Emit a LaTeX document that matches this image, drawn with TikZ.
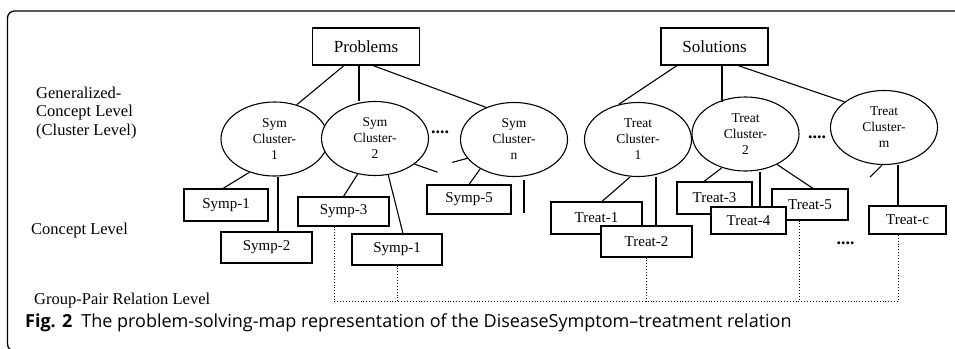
\documentclass[tikz,border=0pt]{standalone}
\usepackage{fontspec}
\setmainfont{Liberation Serif}
\newfontfamily\capfont{Open Sans}
\usetikzlibrary{shapes.geometric}
\begin{document}
\begin{tikzpicture}[x=1pt,y=-1pt,
  topbox/.style={draw,line width=1.1pt,fill=white,inner sep=0pt,minimum width=107,minimum height=37,font=\fontsize{17}{19}\selectfont},
  clus/.style={draw,ellipse,line width=1.1pt,fill=white,inner sep=0pt,minimum width=107,minimum height=74,align=center,font=\fontsize{13.5}{16}\selectfont},
  conc/.style={draw,line width=1.1pt,fill=white,inner sep=0pt,font=\fontsize{15}{16}\selectfont},
  lvl/.style={anchor=base west,align=left,inner sep=0pt,font=\fontsize{16.5}{18.7}\selectfont},
  gap/.style={inner sep=0pt,font=\fontsize{18}{18}\selectfont\bfseries},
  link/.style={line width=1.1pt},
  pair/.style={dotted,line width=0.9pt}]
\useasboundingbox (0,0) rectangle (955,348);
\clip (0,0) rectangle (955,348);

\draw[line width=1.3pt, rounded corners=7] (7.5,11) rectangle (1000,351);

% levels
\node[lvl] (lvgen) at (36,135.5) {Generalized-\\Concept Level\\(Cluster Level)};
\node[lvl] (lvcon) at (31,234) {Concept Level};
\node[lvl] (lvgrp) at (34,304) {Group-Pair Relation Level};

% roots
\node[topbox] (probs) at (366,46.5) {Problems};
\node[topbox] (sols) at (714.5,46.5) {Solutions};

% clusters
\node[clus] (symc1) at (274.5,139) {Sym\\Cluster-\\1};
\node[clus] (symc2) at (375,138.5) {Sym\\Cluster-\\2};
\node[clus] (symcn) at (514,139.5) {Sym\\Cluster-\\n};
\node[clus] (trtc1) at (638,139.5) {Treat\\Cluster-\\1};
\node[clus] (trtc2) at (745.5,134) {Treat\\Cluster-\\2};
\node[clus] (trtcm) at (884,127.5) {Treat\\Cluster-\\m};

\node[gap] (gapsym) at (440,132) {....};
\node[gap] (gaptrt) at (817,137) {....};
\node[gap] (gapcon) at (845.5,243) {....};

% concepts
\node[conc,minimum width=84,minimum height=32] (sympa) at (226,205) {Symp-1};
\node[conc,minimum width=91,minimum height=31] (symp2) at (266.5,247.5) {Symp-2};
\node[conc,minimum width=91,minimum height=29] (symp3) at (343.5,211.5) {Symp-3};
\node[conc,minimum width=90,minimum height=31] (sympb) at (397,249.5) {Symp-1};
\node[conc,minimum width=84,minimum height=29] (symp5) at (469,199.5) {Symp-5};
\node[conc,minimum width=91,minimum height=32] (trt1) at (596.5,218) {Treat-1};
\node[conc,minimum width=91,minimum height=31] (trt2) at (646.5,241.5) {Treat-2};
\node[conc,minimum width=75,minimum height=32] (trt3) at (714.5,198) {Treat-3};
\node[conc,minimum width=76,minimum height=31] (trt5) at (810,204.5) {Treat-5};
\node[conc,minimum width=75,minimum height=27] (trt4) at (748.5,220.5) {Treat-4};
\node[conc,minimum width=77,minimum height=28] (trtc) at (907.5,220) {Treat-c};

% root links
\draw[link] ([xshift=-22]probs.south) -- (symc1.57);
\draw[link] ([xshift=-7]probs.south) -- ([xshift=-7]probs.south |- symc2.north);
\draw[link] ([xshift=7]probs.south) -- (symcn.131);
\draw[link] ([xshift=-37.5]sols.south) -- (trtc1.119);
\draw[link] ([xshift=7.5]sols.south) -- ([xshift=7.5,yshift=-6]sols.south |- trtc2.north);
\draw[link] ([xshift=23.5]sols.south) -- (trtcm.147);

% cluster links
\draw[link] (symc1.233) -- ([xshift=-3]sympa.north);
\draw[link] ([xshift=3.5]symc1.south) -- ([xshift=3.5]symc1.south |- symp2.north);
\draw[link] (symc2.244) -- (symp3.north);
\draw[link] (symc2.290) -- ([xshift=6]sympb.north);
\draw[link] (symc2.327) -- ++(23,8);
\draw[link] (symcn.202) -- ++(-15,4);
\draw[link] (symcn.221) -- (symp5.north);
\draw[link] ([xshift=10,yshift=-3]symcn.south) -- ++(0,33);
\draw[link] ([xshift=-8]trtc1.south) -- ([xshift=5.5]trt1.north);
\draw[link] ([xshift=18]trtc1.south) -- ([xshift=18]trtc1.south |- trt2.north);
\draw[link] (trtc2.235) -- ([xshift=-10.5]trt3.north);
\draw[link] ([xshift=14.5]trtc2.south) -- ([xshift=14.5]trtc2.south |- trt4.north);
\draw[link] (trtc2.316) -- ([xshift=3]trt5.north);
\draw[link] ([xshift=-2]trtcm.south) -- ++(-12,12);
\draw[link] ([xshift=14]trtcm.south) -- ([xshift=14]trtcm.south |- trtc.north);

% group pair relation
\coordinate (grp) at (0,301.5);
\draw[pair] ([xshift=-9.5]symp3.south) |- ([xshift=-9.5]trtc.south |- grp) -- ([xshift=-9.5]trtc.south);
\draw[pair] (sympb.south) -- (sympb.south |- grp);
\draw[pair] (trt2.south) -- (trt2.south |- grp);
\draw[pair] ([xshift=-11]trt5.south) -- ([xshift=-11]trt5.south |- grp);

\node[anchor=base west,inner sep=0pt,font=\capfont\fontsize{18}{20}\selectfont] (cap) at (25,327.5)
  {\textbf{Fig. 2}\hspace{9pt}The problem-solving-map representation of the DiseaseSymptom–treatment relation};
\end{tikzpicture}
\end{document}
